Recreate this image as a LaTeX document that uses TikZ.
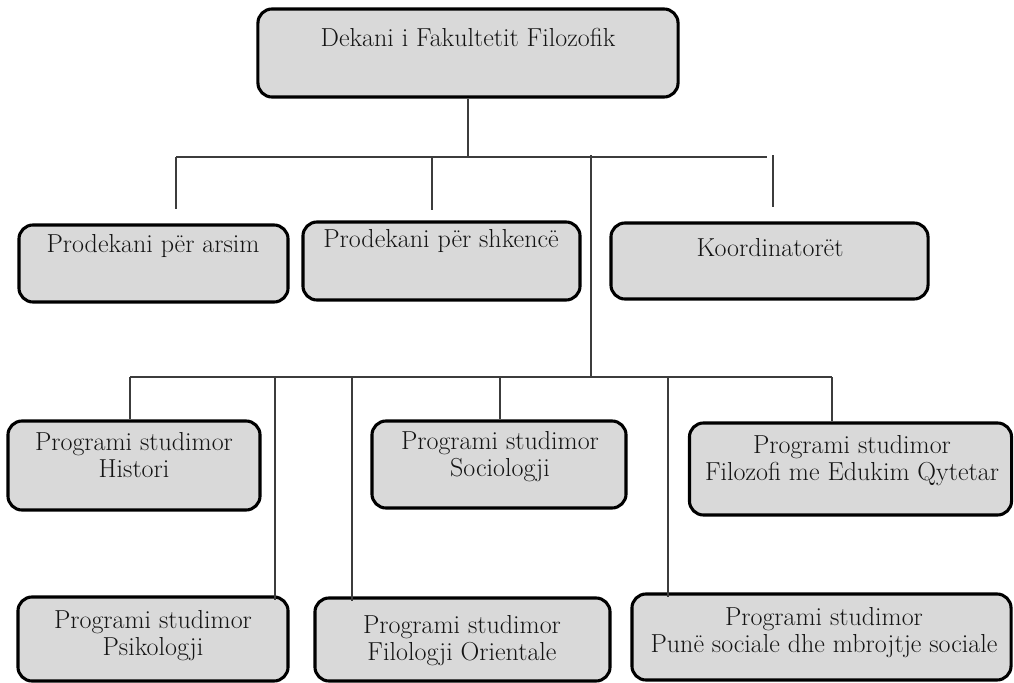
\documentclass[tikz,border=0pt]{standalone}
\usepackage{tikz}
\usetikzlibrary{positioning, calc}
\definecolor{BoxGray}{HTML}{D9D9D9}
\definecolor{LineGray}{HTML}{3C3C3C}

\begin{document}
\begin{tikzpicture}[x=0.025cm, y=-0.025cm,
    orgbox/.style={draw=black, line width=2.2pt, fill=BoxGray, rounded corners=10pt, inner sep=0pt},
    boxtext/.style={anchor=base, align=center, inner sep=0pt, text=black!92, font=\fontsize{18.5}{18.5}\selectfont},
    wire/.style={draw=LineGray, line width=0.9pt}]
  \useasboundingbox (0,0) rectangle (1014,683);
  % first bus
  \coordinate (busA-l) at (176,157);
  \coordinate (busA-r) at (767,157);
  \coordinate (busA-m) at (432,157);
  \coordinate (koord-up) at (773,155);
  \coordinate (trunk-top) at (591,155);
  \coordinate (trunk-bot) at (591,377);
  % second bus
  \coordinate (busB-l) at (130,377);
  \coordinate (busB-r) at (832,377);
  \coordinate (busB-psi) at (275,377);
  \coordinate (busB-fil) at (352,377);
  \coordinate (busB-soc) at (500,377);
  \coordinate (busB-pun) at (668,377);
  % boxes
  \node[orgbox, minimum width=10.5cm, minimum height=2.2cm] (dekan) at (468,53) {};
  \node[orgbox, minimum width=6.725cm, minimum height=1.925cm] (arsim) at (153.5,263.5) {};
  \node[orgbox, minimum width=6.925cm, minimum height=1.95cm] (shkence) at (441.5,261) {};
  \node[orgbox, minimum width=7.925cm, minimum height=1.9cm] (koord) at (769.5,261) {};
  \node[orgbox, minimum width=6.3cm, minimum height=2.225cm] (histori) at (134,465.5) {};
  \node[orgbox, minimum width=6.35cm, minimum height=2.175cm] (sociologji) at (499,464.5) {};
  \node[orgbox, minimum width=8.05cm, minimum height=2.3cm] (filozofi) at (850.5,469) {};
  \node[orgbox, minimum width=6.75cm, minimum height=2.1cm] (psikologji) at (153,639) {};
  \node[orgbox, minimum width=7.375cm, minimum height=2.075cm] (filologji) at (462.5,639.5) {};
  \node[orgbox, minimum width=9.475cm, minimum height=2.15cm] (pune) at (821.5,637) {};
  % texts (base = last line)
  \node[boxtext] (dekan-t) at (468,47) {Dekani i Fakultetit Filozofik};
  \node[boxtext] (arsim-t) at (153,252) {Prodekani për arsim};
  \node[boxtext] (shkence-t) at (441,247) {Prodekani për shkencë};
  \node[boxtext] (koord-t) at (770,256) {Koordinatorët};
  \node[boxtext] (histori-t) at (134,477) {Programi studimor\\Histori};
  \node[boxtext] (sociologji-t) at (500,476) {Programi studimor\\Sociologji};
  \node[boxtext] (filozofi-t) at (852,480) {Programi studimor\\Filozofi me Edukim Qytetar};
  \node[boxtext] (psikologji-t) at (153,655) {Programi studimor\\Psikologji};
  \node[boxtext] (filologji-t) at (462,660) {Programi studimor\\Filologji Orientale};
  \node[boxtext] (pune-t) at (824,652) {Programi studimor\\Punë sociale dhe mbrojtje sociale};
  % connectors
  \draw[wire] (dekan.south) -- (dekan.south |- busA-l);
  \draw[wire] (busA-l) -- (busA-r);
  \draw[wire] (busA-l) -- ++(0,52);
  \draw[wire] (busA-m) -- ++(0,53);
  \draw[wire] (koord-up) -- ++(0,52);
  \draw[wire] (trunk-top) -- (trunk-bot);
  \draw[wire] (busB-l) -- (busB-r);
  \draw[wire] (busB-l) -- (busB-l |- histori.north);
  \draw[wire] (busB-r) -- (busB-r |- filozofi.north);
  \draw[wire] (busB-soc) -- (busB-soc |- sociologji.north);
  \draw[wire] (busB-psi) -- ([yshift=-3pt]busB-psi |- psikologji.north);
  \draw[wire] (busB-fil) -- ([yshift=-3pt]busB-fil |- filologji.north);
  \draw[wire] (busB-pun) -- ([yshift=-3pt]busB-pun |- pune.north);
\end{tikzpicture}
\end{document}
